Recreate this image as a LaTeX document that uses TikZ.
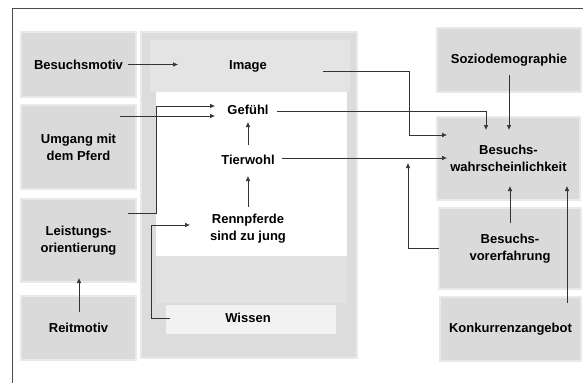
\documentclass[tikz,border=0pt]{standalone}
\usepackage{fontspec}
\setmainfont{Liberation Sans}
\usetikzlibrary{arrows.meta}
\definecolor{boxfill}{HTML}{DADADA}
\definecolor{boxline}{HTML}{A8A8A8}
\definecolor{lin}{HTML}{333333}
\definecolor{bigfill}{HTML}{DCDCDC}
\definecolor{topfill}{HTML}{E4E4E4}
\definecolor{bandfill}{HTML}{E2E2E2}
\definecolor{stripfill}{HTML}{F2F2F2}
\begin{document}
\begin{tikzpicture}[x=1pt,y=-1pt,
  every node/.style={font=\fontsize{13}{17}\selectfont\bfseries, text=black, align=center},
  box/.style={draw=boxline, fill=boxfill, double=boxfill!60!white, double distance=1.2pt, line width=0.5pt, inner sep=0pt},
  lbl/.style={inner sep=0pt},
  arr/.style={draw=lin, line width=0.6pt, -{Latex[length=5pt,width=4.5pt]}},
  ln/.style={draw=lin, line width=0.6pt}]
\useasboundingbox (0,0) rectangle (587,383);
% frame
\draw[draw=black!70, line width=0.9pt] (12,383) -- (12,8) -- (583,8);
% big centre box
\node[box, fill=bigfill, minimum width=216, minimum height=326] (big) at (249,195) {};
\fill[topfill] (150,40) rectangle (350,92);
\fill[white] (156,92) rectangle (347,256);
\fill[bandfill] (156,256) rectangle (347,303);
\fill[stripfill] (166,305) rectangle (336,334);
% left boxes
\node[box, minimum width=115, minimum height=65] (bm) at (78.5,64.5) {Besuchsmotiv};
\node[box, minimum width=115, minimum height=84] (um) at (78.5,147) {Umgang mit\\dem Pferd};
\node[box, minimum width=115, minimum height=83] (lo) at (78.5,240.5) {Leistungs-\\orientierung};
\node[box, minimum width=115, minimum height=64] (rm) at (78.5,328) {Reitmotiv};
% right boxes
\node[box, minimum width=144, minimum height=64] (sd) at (509,60) {Soziodemographie};
\node[box, minimum width=143, minimum height=83] (bw) at (508.5,158.5) {Besuchs-\\wahrscheinlichkeit};
\node[box, minimum width=142, minimum height=81] (bv) at (510,248.5) {Besuchs-\\vorerfahrung};
\node[box, minimum width=141, minimum height=64] (ka) at (510.5,329) {Konkurrenzangebot};
% inner labels
\node[lbl] (img) at (248,66) {Image};
\node[lbl] (gef) at (248,110) {Gefühl};
\node[lbl] (tw) at (248,160) {Tierwohl};
\node[lbl] (rp) at (248,229) {Rennpferde\\sind zu jung};
\node[lbl] (wis) at (248,318) {Wissen};
% coordinates for free ends
\coordinate (imgin) at (178,64.5);
\coordinate (gefin1) at (215,106);
\coordinate (gefin2) at (215,116);
\coordinate (rpin) at (190,225);
\coordinate (bwin1) at (447,135);
\coordinate (bwin2) at (447,158);
\coordinate (bwin3) at (486,130);
\coordinate (bwin4) at (509,130);
\coordinate (bwin5) at (408,163);
\coordinate (bwin6) at (510,186);
\coordinate (bwin7) at (567,186);
% connectors
\draw[arr] (128,64.5) -- (imgin);
\draw[arr] (120,116) -- (gefin2);
\draw[arr] (128,213) -| (156,106) -- (gefin1);
\draw[arr] (170,318) -- (151,318) |- (rpin);
\draw[arr] (79,312) -- (79,278);
\draw[arr] (248,207) -- (248,176);
\draw[arr] (248,145) -- (248,122);
\draw[arr] (323,71) -| (409,135) -- (bwin1);
\draw[arr] (277,111) -| (bwin3);
\draw[arr] (509,75) -- (bwin4);
\draw[arr] (282,158) -- (bwin2);
\draw[arr] (bv.west) -| (bwin5);
\draw[arr] (510,223) -- (bwin6);
\draw[arr] (567,303) -- (bwin7);
\end{tikzpicture}
\end{document}
